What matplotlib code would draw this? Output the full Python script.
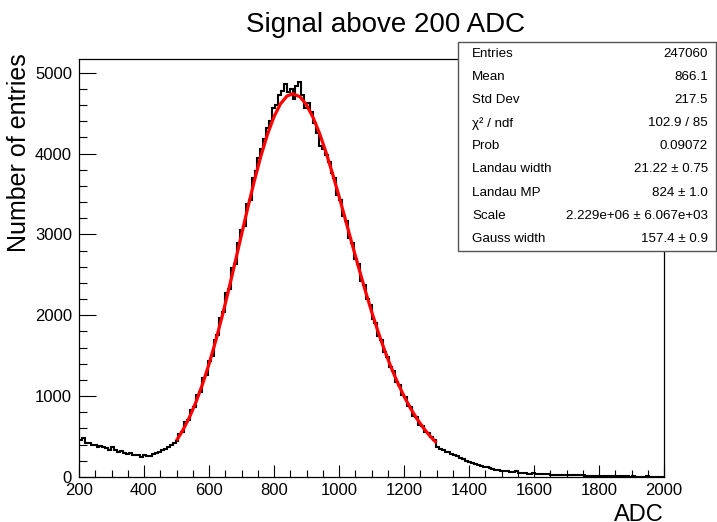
import numpy as np
import matplotlib
matplotlib.use("Agg")
import matplotlib.pyplot as plt
from matplotlib.patches import Rectangle
from matplotlib.ticker import MultipleLocator

plt.rcParams['font.family'] = ['Liberation Sans', 'DejaVu Sans']

# ---------------- data ----------------
bin_lo, bin_hi, n_bins = 200, 2000, 200

counts = [
    # 200 - 497
    455, 480, 415, 420, 395, 400, 370, 385, 365, 360,
    340, 370, 330, 315, 320, 300, 290, 295, 275, 270,
    275, 245, 270, 255, 262, 280, 295, 310, 330, 350,
    370, 400, 420,
    # 497 - 1298
    440, 530, 560, 680, 700, 830, 860, 1010, 1050, 1220,
    1260, 1440, 1500, 1700, 1760, 1970, 2040, 2270, 2330, 2580,
    2640, 2900, 3060, 3110, 3380, 3420, 3700, 3790, 3950, 4060,
    4180, 4320, 4400, 4560, 4600, 4720, 4780, 4860, 4760, 4800,
    4680, 4840, 4880, 4720, 4560, 4620, 4520, 4380, 4250, 4100,
    4060, 3980, 3900, 3760, 3700, 3490, 3430, 3230, 3170, 2950,
    2900, 2700, 2640, 2430, 2380, 2200, 2130, 1960, 1900, 1740,
    1700, 1540, 1490, 1360, 1310, 1180, 1140, 1020, 990, 880,
    860, 750, 740, 640, 630, 560, 545, 500, 460,
    # 1298 - 2000
    370, 350, 340, 315, 305, 280, 275, 255, 240, 225,
    200, 185, 175, 165, 150, 140, 128, 118, 108, 100,
    92, 85, 80, 72, 70, 62, 58, 70, 52, 48,
    45, 42, 40, 50, 38, 36, 34, 33, 31, 30,
    29, 28, 30, 26, 24, 23, 22, 21, 25, 20,
    19, 18, 17, 16, 15, 15, 12, 11, 10, 10,
    12, 9, 8, 8, 7, 7, 6, 10, 6, 5,
    5, 4, 9, 4, 3, 3, 3, 2,
]

fit_adc = [500, 520, 540, 560, 580, 600, 620, 640, 660, 680, 700, 720, 740,
           760, 780, 800, 820, 840, 858, 880, 900, 920, 940, 960, 980, 1000,
           1020, 1040, 1060, 1080, 1100, 1120, 1140, 1160, 1180, 1200, 1220,
           1240, 1260, 1280, 1300]
fit_val = [450, 582, 740, 928, 1147, 1396, 1675, 1980, 2307, 2649, 2997, 3341,
           3671, 3974, 4239, 4456, 4616, 4712, 4740, 4703, 4602, 4449, 4251,
           4016, 3753, 3473, 3181, 2885, 2597, 2317, 2049, 1800, 1569, 1359,
           1170, 1000, 850, 719, 605, 507, 422]

x_ticks = [200, 400, 600, 800, 1000, 1200, 1400, 1600, 1800, 2000]
y_ticks = [0, 1000, 2000, 3000, 4000, 5000]

stats_names = ["Entries", "Mean", "Std Dev", "\u03c7\u00b2 / ndf", "Prob",
               "Landau width", "Landau MP", "Scale", "Gauss width"]
stats_values = ["247060", "866.1", "217.5", "102.9 / 85", "0.09072",
                "21.22 \u00b1 0.75", "824 \u00b1 1.0",
                "2.229e+06 \u00b1 6.067e+03", "157.4 \u00b1 0.9"]

# ---------------- figure ----------------
W, H = 717, 522
fig = plt.figure(figsize=(W / 100, H / 100), dpi=100)
ax = fig.add_axes([79 / W, 1 - 477 / H, (664 - 79) / W, (477 - 59) / H])

edges = np.linspace(bin_lo, bin_hi, n_bins + 1)
ax.stairs(counts, edges, color='black', linewidth=1.5, baseline=None)
ax.plot(fit_adc, fit_val, color='#ff0000', linewidth=2.3, solid_capstyle='butt')

ax.set_xlim(200, 2000)
ax.set_ylim(0, 5170)
ax.set_xticks(x_ticks)
ax.set_yticks(y_ticks)
ax.xaxis.set_minor_locator(MultipleLocator(50))
ax.yaxis.set_minor_locator(MultipleLocator(200))
ax.tick_params(axis='both', which='both', direction='in', top=False, right=False,
               labelsize=12, width=0.8, color='black')
ax.tick_params(axis='y', which='major', length=12, pad=5)
ax.tick_params(axis='y', which='minor', length=6)
ax.tick_params(axis='x', which='major', length=9, pad=4)
ax.tick_params(axis='x', which='minor', length=5)
for s in ax.spines.values():
    s.set_linewidth(0.9)
    s.set_color('black')

# titles
fig.text(386 / W, 1 - 32 / H, "Signal above 200 ADC", ha='center', va='baseline',
         fontsize=20)
fig.text(19 / W, 1 - 53 / H, "Number of entries", rotation=90, ha='center', va='top',
         fontsize=18)
fig.text(664 / W, 1 - 521 / H, "ADC", ha='right', va='baseline', fontsize=17)

# stats box
bx0, by0, bx1, by1 = 458, 42, 716, 251
fig.patches.append(Rectangle((bx0 / W, 1 - by1 / H), (bx1 - bx0) / W, (by1 - by0) / H,
                             transform=fig.transFigure, facecolor='white',
                             edgecolor='#555555', linewidth=1.0, zorder=5))
row0, drow = 54, 23.1
for i, (n, v) in enumerate(zip(stats_names, stats_values)):
    yy = 1 - (row0 + i * drow) / H
    fig.text(472 / W, yy, n, ha='left', va='center', fontsize=9.6, zorder=6)
    fig.text(708 / W, yy, v, ha='right', va='center', fontsize=9.6, zorder=6)

fig.savefig("out.png", dpi=100)
